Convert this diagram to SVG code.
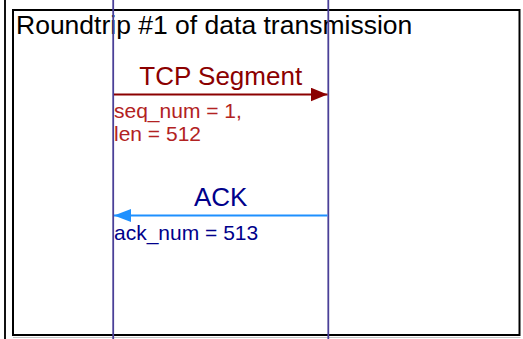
<svg xmlns="http://www.w3.org/2000/svg" width="523" height="339" viewBox="0 0 523 339">
  <style>
    text { font-family: "Liberation Sans", Arial, sans-serif; }
    .frame { fill: none; stroke: #000; stroke-width: 2; }
    .lifeline { stroke: #4a4098; stroke-width: 1.8; }
    .title { font-size: 26.5px; fill: #000; }
    .label { font-size: 26px; text-anchor: middle; }
    .note { font-size: 21px; }
  </style>
  <defs>
    <marker id="headRed" viewBox="0 0 17 14" refX="17" refY="7" markerWidth="17" markerHeight="14" markerUnits="userSpaceOnUse" orient="auto">
      <path d="M0,0 L17,7 L0,14 Z" fill="#8b0000"/>
    </marker>
    <marker id="headBlue" viewBox="0 0 17 13" refX="17" refY="6.5" markerWidth="17" markerHeight="13" markerUnits="userSpaceOnUse" orient="auto">
      <path d="M0,0 L17,6.5 L0,13 Z" fill="#1e90ff"/>
    </marker>
  </defs>

  <rect width="523" height="339" fill="#fff"/>

  <!-- outer margin rule and frame -->
  <line x1="5" y1="0" x2="5" y2="339" stroke="#111" stroke-width="2"/>
  <line x1="13" y1="337.5" x2="520.5" y2="337.5" stroke="#c4c4c4" stroke-width="1"/>
  <g id="frame">
    <rect class="frame" x="13" y="10" width="506.5" height="325"/>
    <text class="title" x="16" y="34">Roundtrip #1 of data transmission</text>
  </g>

  <!-- lifelines -->
  <g id="sender">
    <line class="lifeline" x1="113.2" y1="0" x2="113.2" y2="339"/>
  </g>
  <g id="receiver">
    <line class="lifeline" x1="328.3" y1="0" x2="328.3" y2="339"/>
  </g>

  <!-- messages -->
  <g id="connectors">
    <line x1="114" y1="94.5" x2="327.5" y2="94.5" stroke="#8b0000" stroke-width="2" marker-end="url(#headRed)"/>
    <line x1="327.5" y1="215.5" x2="114" y2="215.5" stroke="#1e90ff" stroke-width="2" marker-end="url(#headBlue)"/>
  </g>

  <g id="segment-labels">
    <text class="label" x="220.7" y="85" fill="#8b0000">TCP Segment</text>
    <text class="note" x="114" y="118" fill="#b22222">seq_num = 1,</text>
    <text class="note" x="114" y="141" fill="#b22222">len = 512</text>
  </g>
  <g id="ack-labels">
    <text class="label" x="220.7" y="206" fill="#00008b">ACK</text>
    <text class="note" x="114" y="240" fill="#00008b">ack_num = 513</text>
  </g>
</svg>
